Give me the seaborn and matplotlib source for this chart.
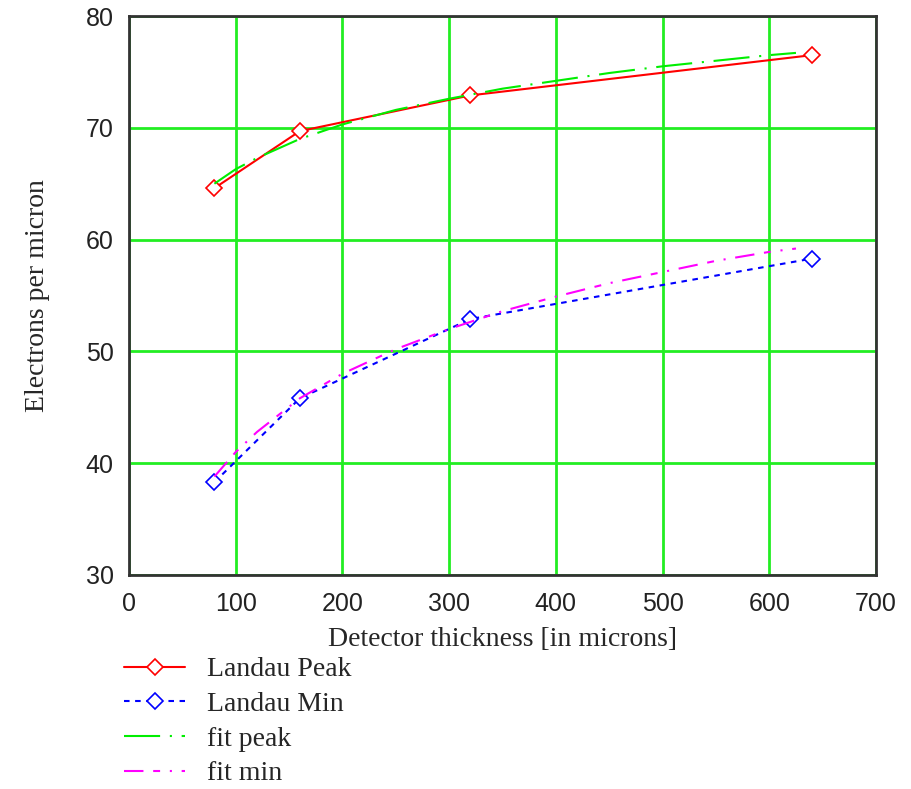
import numpy as np
import pandas as pd
import matplotlib
matplotlib.use("Agg")
import matplotlib.pyplot as plt
import seaborn as sns

# Measured most-probable (Landau peak) and minimum charge per micron
thickness = [80, 160, 320, 640]
landau_peak = [64.6, 69.7, 72.9, 76.5]
landau_min = [38.3, 45.8, 52.9, 58.3]

# Fitted curves, sampled along the thickness axis
fit_x = [80, 100, 120, 160, 200, 250, 300, 350, 400, 450, 500, 550, 600, 625]
fit_peak = [65.0, 66.3, 67.3, 69.0, 70.3, 71.6, 72.6, 73.5, 74.2, 74.9, 75.5, 76.0, 76.5, 76.7]
fit_min = [38.8, 41.0, 42.8, 45.8, 48.0, 50.2, 52.0, 53.6, 54.9, 56.1, 57.1, 58.1, 58.9, 59.2]

x_ticks = [0, 100, 200, 300, 400, 500, 600, 700]
y_ticks = [30, 40, 50, 60, 70, 80]

sns.set_style("white")
plt.rcParams["lines.scale_dashes"] = False

serif = ["Liberation Serif", "DejaVu Serif"]
sans = ["Liberation Sans", "DejaVu Sans"]

meas = pd.DataFrame({"thickness": thickness, "peak": landau_peak, "min": landau_min})
fits = pd.DataFrame({"thickness": fit_x, "peak": fit_peak, "min": fit_min})

fig = plt.figure(figsize=(9.12, 7.89), dpi=100)
ax = fig.add_axes([129 / 912, 1 - 575 / 789, (876 - 129) / 912, (575 - 16) / 789])

sns.lineplot(data=meas, x="thickness", y="peak", ax=ax, color="#ff0000", lw=1.5,
             marker="D", markersize=8.5, markerfacecolor="white",
             markeredgecolor="#ff0000", markeredgewidth=1.2, label="Landau Peak")
sns.lineplot(data=meas, x="thickness", y="min", ax=ax, color="#0000ff", lw=1.5,
             marker="D", markersize=8.5, markerfacecolor="white",
             markeredgecolor="#0000ff", markeredgewidth=1.2, label="Landau Min")
sns.lineplot(data=fits, x="thickness", y="peak", ax=ax, color="#00ee00", lw=1.5,
             label="fit peak")
sns.lineplot(data=fits, x="thickness", y="min", ax=ax, color="#ff00ff", lw=1.5,
             label="fit min")

lines = ax.get_lines()
lines[1].set_dashes((4, 4))
lines[2].set_dashes((26, 7, 1.5, 7))
lines[3].set_dashes((14, 7, 5, 7, 1.5, 7))

ax.set_xlim(0, 700)
ax.set_ylim(30, 80)
ax.set_xticks(x_ticks)
ax.set_yticks(y_ticks)
ax.grid(True, color="#22ee22", lw=2)
ax.set_axisbelow(True)
for s in ax.spines.values():
    s.set_color("#333333")
    s.set_linewidth(2)
    s.set_visible(True)
ax.tick_params(axis="x", length=0, pad=12)
ax.tick_params(axis="y", length=0, pad=11)
for lab in ax.get_xticklabels() + ax.get_yticklabels():
    lab.set_family(sans)
    lab.set_fontsize(18)
    lab.set_color("#222222")

ax.set_xlabel("Detector thickness [in microns]", family=serif, fontsize=20, labelpad=8)
ax.set_ylabel("Electrons per micron", family=serif, fontsize=20, labelpad=26)

handles, labels = ax.get_legend_handles_labels()
ax.get_legend().remove()
fig.legend(handles, labels, loc="upper left", bbox_to_anchor=(124 / 912, 1 - 657 / 789),
           frameon=False, prop={"family": serif, "size": 20}, handlelength=2.2,
           handletextpad=0.8, labelspacing=0.33, borderpad=0, borderaxespad=0)

fig.savefig("out.png", dpi=100)
